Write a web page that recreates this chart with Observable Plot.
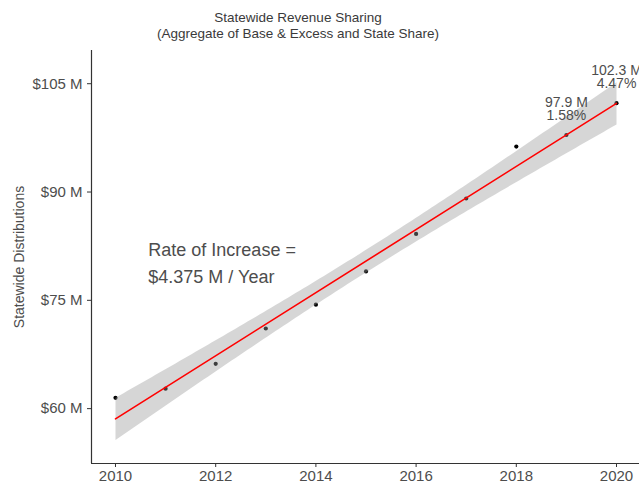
<!DOCTYPE html>
<html>
<head>
<meta charset="utf-8">
<script src="https://cdn.jsdelivr.net/npm/d3@7"></script>
<script src="https://cdn.jsdelivr.net/npm/@observablehq/plot@0.6"></script>
<style>
  body { margin: 0; background: #fff; font-family: "Liberation Sans", Arial, sans-serif; }
  #wrap { position: relative; width: 639px; height: 487px; }
  #title { position: absolute; left: 0; top: 10px; width: 596px; text-align: center;
           font-size: 13.5px; line-height: 15.5px; color: #3a3a3a; }
  #chart { position: absolute; left: 0; top: 0; }
</style>
</head>
<body>
<div id="wrap">
  <div id="chart"></div>
  <div id="title">Statewide Revenue Sharing<br>(Aggregate of Base &amp; Excess and State Share)</div>
</div>
<script>
const years = [2010, 2011, 2012, 2013, 2014, 2015, 2016, 2017, 2018, 2019, 2020];
const values = [61.5, 62.77, 66.2, 71.1, 74.4, 79.0, 84.2, 89.1, 96.3, 97.9, 102.3];
const labelYears = [2019, 2020];
const labelValues = [97.9, 102.3];
const labelTexts = ["97.9 M\n1.58%", "102.3 M\n4.47%"];
const yTicks = [60, 75, 90, 105];
const xTicks = [2010, 2012, 2014, 2016, 2018, 2020];
const rateText = "Rate of Increase =\n$4.375 M / Year";
const yLabel = "Statewide Distributions";

const data = years.map((y, i) => ({year: y, value: values[i]}));
const labels = labelYears.map((y, i) => ({year: y, value: labelValues[i], text: labelTexts[i]}));

const xDom = [2009.521, 2020.459];
const yDom = [52.4, 109.6];

const chart = Plot.plot({
  width: 639,
  height: 487,
  marginLeft: 91,
  marginRight: 0,
  marginTop: 50,
  marginBottom: 24,
  style: {fontFamily: "'Liberation Sans', Arial, sans-serif", background: "#fff"},
  x: {domain: xDom},
  y: {domain: yDom},
  marks: [
    Plot.dot(data, {x: "year", y: "value", r: 2.1, fill: "black", stroke: "none"}),
    Plot.linearRegressionY(data, {x: "year", y: "value", stroke: "red", strokeWidth: 1.6, ci: 0.99, fill: "#999999", fillOpacity: 0.4}),
    Plot.ruleX([xDom[0]], {stroke: "#333", strokeWidth: 1.2}),
    Plot.ruleY([yDom[0]], {stroke: "#333", strokeWidth: 1.2}),
    Plot.axisY({ticks: yTicks, tickFormat: d => `$${d} M`, tickSize: 4, tickPadding: 5, fontSize: 15, color: "#4d4d4d", stroke: "#333", label: null}),
    Plot.axisX({ticks: xTicks, tickFormat: d => String(d), tickSize: 4, tickPadding: 3, fontSize: 15, color: "#4d4d4d", stroke: "#333", label: null}),
    Plot.text([yLabel], {text: d => d, frameAnchor: "left", textAnchor: "middle", rotate: -90, dx: -72, fontSize: 14, fill: "#4d4d4d"}),
    Plot.text([rateText], {text: d => d, x: 2010.655, y: 80.4, textAnchor: "start", fontSize: 18, lineHeight: 1.5, fill: "#4d4d4d"}),
    Plot.text(labels, {x: "year", y: "value", text: "text", lineAnchor: "bottom", dy: -15, fontSize: 14, lineHeight: 0.93, fill: "#4d4d4d"})
  ]
});
document.getElementById("chart").appendChild(chart);
</script>
</body>
</html>
